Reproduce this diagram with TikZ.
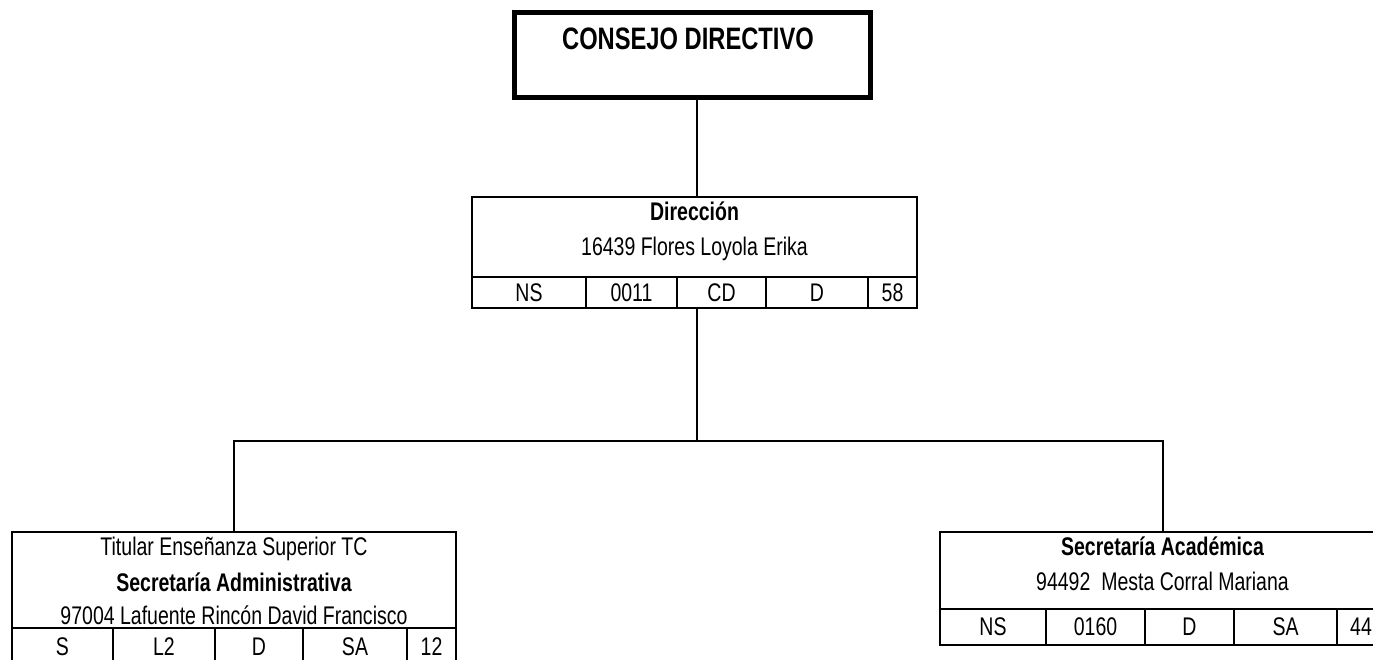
\documentclass[tikz,border=0pt]{standalone}
\usepackage{fontspec}
\setmainfont[FakeStretch=0.765]{Liberation Sans}
\usepackage{tikz}
\newcommand{\orgBody}{\fontsize{25.5}{30}\selectfont}
\newcommand{\orgTitle}{\fontsize{31}{36}\selectfont\bfseries}

\begin{document}
\begin{tikzpicture}[x=1pt,y=-1pt,line width=2pt,
  orgbox/.style={draw, inner sep=0pt, minimum width=#1},
  orgcell/.style={draw, inner sep=0pt, font=\orgBody, minimum width=#1},
  orgtxt/.style={anchor=base, inner sep=0pt, font=\orgBody}]
\clip (0,0) rectangle (1373,660);
\node[orgbox=356pt, minimum height=85pt, line width=5pt] (consejo) at (692.5,55) {};
\node[anchor=base, inner sep=0pt, font=\orgTitle] (consejoTxt) at (688,50) {CONSEJO DIRECTIVO};
\node[orgbox=445pt, minimum height=80pt] (dirHead) at (694.5,237) {};
\node[orgtxt, font=\orgBody\bfseries] (dirTitle) at (694.5,221) {Dirección};
\node[orgtxt] (dirName) at (694.5,255.5) {16439 Flores Loyola Erika};
\node[orgcell=114pt, minimum height=31pt] (dirA) at (529,292.5) {NS};
\node[orgcell=91pt, minimum height=31pt] (dirB) at (631.5,292.5) {0011};
\node[orgcell=89pt, minimum height=31pt] (dirC) at (721.5,292.5) {CD};
\node[orgcell=102pt, minimum height=31pt] (dirD) at (817,292.5) {D};
\node[orgcell=49pt, minimum height=31pt] (dirE) at (892.5,292.5) {58};
\node[orgbox=444pt, minimum height=96pt] (admHead) at (234,580) {};
\node[orgtxt] (admRank) at (234,555) {Titular Enseñanza Superior TC};
\node[orgtxt, font=\orgBody\bfseries] (admTitle) at (234,591) {Secretaría Administrativa};
\node[orgtxt] (admName) at (234,624) {97004 Lafuente Rincón David Francisco};
\node[orgcell=101pt, minimum height=37pt] (admA) at (62.5,646.5) {S};
\node[orgcell=102pt, minimum height=37pt] (admB) at (164,646.5) {L2};
\node[orgcell=88pt, minimum height=37pt] (admC) at (259,646.5) {D};
\node[orgcell=104pt, minimum height=37pt] (admD) at (355,646.5) {SA};
\node[orgcell=49pt, minimum height=37pt] (admE) at (431.5,646.5) {12};
\node[orgbox=445pt, minimum height=77pt] (acaHead) at (1162.5,570.5) {};
\node[orgtxt, font=\orgBody\bfseries] (acaTitle) at (1162.5,555) {Secretaría Académica};
\node[orgtxt] (acaName) at (1162.5,590) {94492\ \ Mesta Corral Mariana};
\node[orgcell=106pt, minimum height=36pt] (acaA) at (993,627) {NS};
\node[orgcell=99pt, minimum height=36pt] (acaB) at (1095.5,627) {0160};
\node[orgcell=89pt, minimum height=36pt] (acaC) at (1189.5,627) {D};
\node[orgcell=103pt, minimum height=36pt] (acaD) at (1285.5,627) {SA};
\node[orgcell=48pt, minimum height=36pt] (acaE) at (1361,627) {44};
\coordinate (hub) at (697,441);
\draw (consejo.south -| hub) -- (dirHead.north -| hub);
\draw (dirC.south -| hub) -- (hub);
\draw (admHead.north) |- (hub) -| (acaHead.north);
\end{tikzpicture}
\end{document}
